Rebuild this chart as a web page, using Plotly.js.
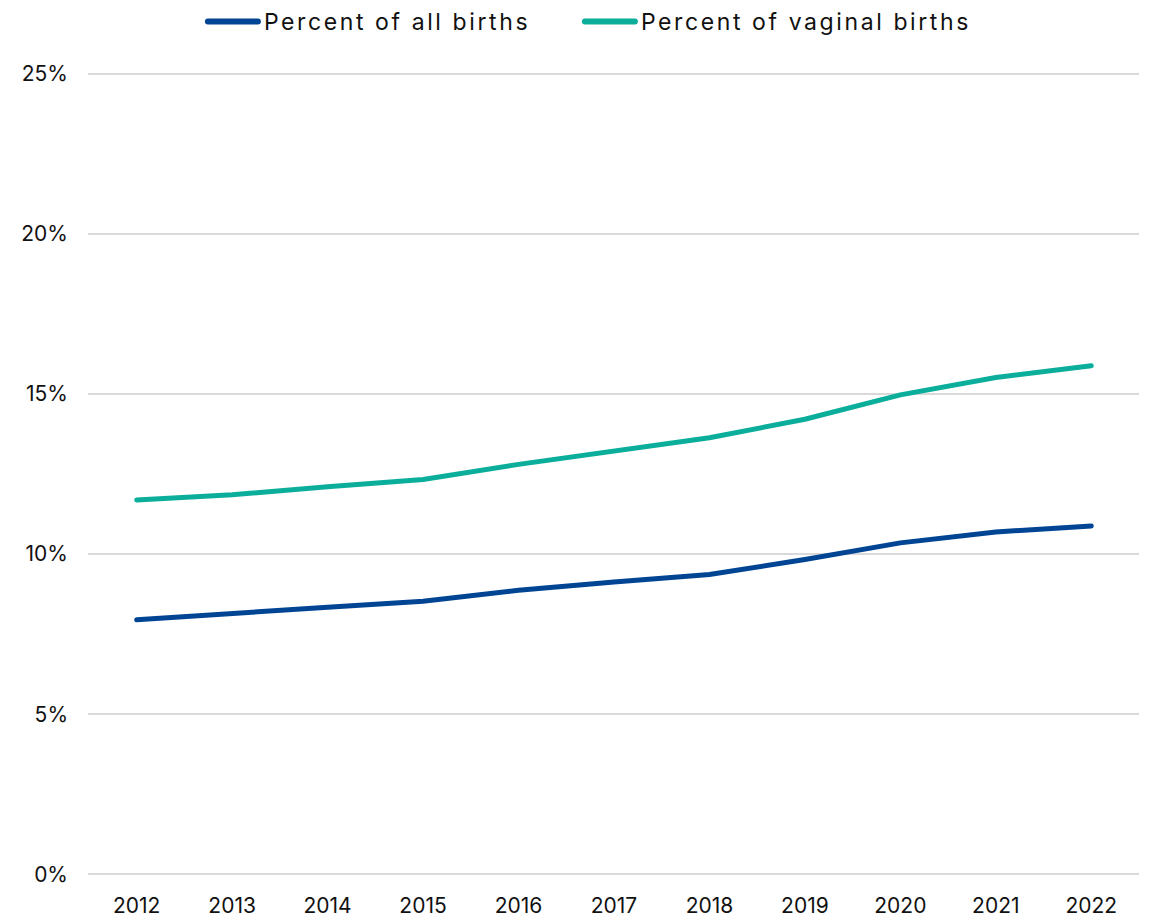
<!DOCTYPE html>
<html>
<head>
<meta charset="utf-8">
<script src="https://cdn.plot.ly/plotly-3.0.1.min.js"></script>
<style>
body{margin:0;padding:0;background:#fff;}
#chart{width:1150px;height:918px;}
#chart .legendtext{letter-spacing:2.6px;}
#chart .legendlines path{stroke-linecap:round;stroke-width:6px !important;}
#chart .js-line{stroke-linecap:round;}
</style>
</head>
<body>
<div id="chart"></div>
<script>
const years = [2012, 2013, 2014, 2015, 2016, 2017, 2018, 2019, 2020, 2021, 2022];
const pctAllBirths = [7.95, 8.13, 8.34, 8.53, 8.87, 9.13, 9.36, 9.83, 10.35, 10.69, 10.88];
const pctVaginalBirths = [11.69, 11.85, 12.10, 12.33, 12.80, 13.22, 13.63, 14.21, 14.97, 15.51, 15.88];
const seriesNames = ["Percent of all births", "Percent of vaginal births"];
const yTickVals = [0, 5, 10, 15, 20, 25];
const yTickText = ["0%", "5%", "10%", "15%", "20%", "25%"];

const font = "Inter, DejaVu Sans, sans-serif";
const traces = [
  {x: years, y: pctAllBirths, name: seriesNames[0], type: "scatter", mode: "lines",
   line: {color: "#004494", width: 5}},
  {x: years, y: pctVaginalBirths, name: seriesNames[1], type: "scatter", mode: "lines",
   line: {color: "#0bae9b", width: 5}}
];
const layout = {
  width: 1150, height: 918,
  margin: {l: 88, r: 11, t: 72, b: 42},
  paper_bgcolor: "#fff", plot_bgcolor: "#fff",
  font: {family: font, color: "#111", size: 20},
  showlegend: true,
  legend: {orientation: "h", x: 0.186, xref: "container", xanchor: "left",
           y: 1, yref: "container", yanchor: "top",
           entrywidth: 322, entrywidthmode: "pixels",
           font: {size: 23, family: font, color: "#111"}, itemwidth: 40, tracegroupgap: 0},
  xaxis: {range: [2011.49, 2022.5], tickvals: years, ticktext: years.map(String),
          showgrid: false, zeroline: false, showline: false, ticks: "",
          ticklabelstandoff: 15, tickfont: {size: 21}},
  yaxis: {range: [-0.05, 25.05], tickvals: yTickVals, ticktext: yTickText,
          showgrid: true, gridcolor: "#d9d9d9", gridwidth: 1.5, zeroline: false,
          showline: false, ticks: "", ticklabelstandoff: 19, tickfont: {size: 21}}
};
Plotly.newPlot("chart", traces, layout, {displayModeBar: false}).then(function (gd) {
  gd.querySelectorAll(".legend [clip-path]").forEach(function (e) {
    e.removeAttribute("clip-path");
  });
  gd.querySelectorAll(".legendlines path").forEach(function (p) {
    p.setAttribute("d", "M-6,0h50");
  });
});
</script>
</body>
</html>
